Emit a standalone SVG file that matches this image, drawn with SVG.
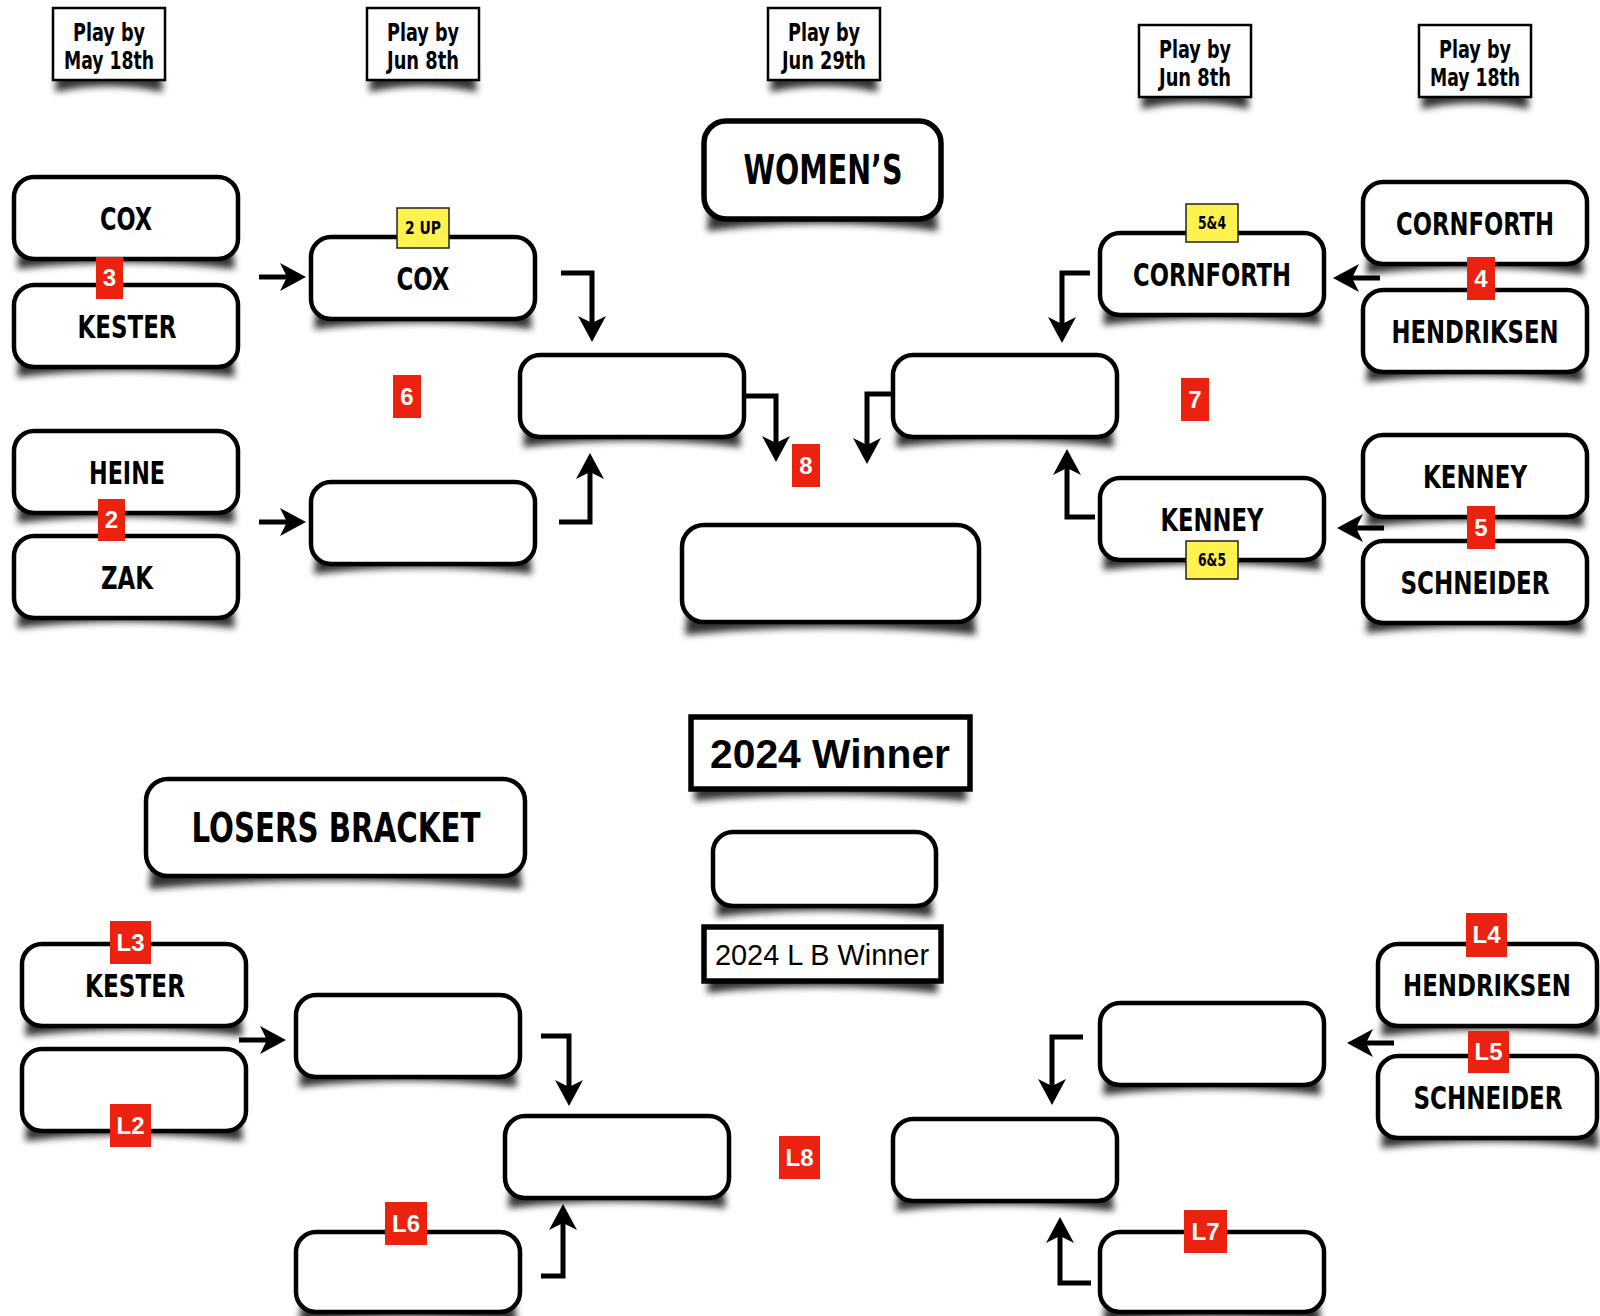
<svg xmlns="http://www.w3.org/2000/svg" xmlns:xlink="http://www.w3.org/1999/xlink" width="1600" height="1316" viewBox="0 0 1600 1316">
<style>
.bx{fill:#fff;stroke:#000;stroke-width:4.5}
.sq{fill:#fff;stroke:#000;stroke-width:2.5}
.sqb{fill:#fff;stroke:#000;stroke-width:5.5}
.shd{fill:#000;opacity:.8;filter:url(#blur)}
.nm{font-family:"Liberation Sans Narrow","DejaVu Sans Condensed","Liberation Sans",sans-serif;font-weight:bold;font-size:32px;text-anchor:middle;fill:#000}
.pb{font-family:"Liberation Sans Narrow","DejaVu Sans Condensed","Liberation Sans",sans-serif;font-weight:bold;font-size:25px;text-anchor:middle;fill:#000}
.tt{font-family:"Liberation Sans Narrow","DejaVu Sans Condensed","Liberation Sans",sans-serif;font-weight:bold;font-size:40px;text-anchor:middle;fill:#000}
.win{font-family:"Liberation Sans",Arial,sans-serif;font-weight:bold;font-size:40px;text-anchor:middle;fill:#000}
.lbw{font-family:"Liberation Sans",Arial,sans-serif;font-size:29px;text-anchor:middle;fill:#000}
.rb{fill:#EC2210}
.rt{font-family:"Liberation Sans",Arial,sans-serif;font-weight:bold;font-size:24px;text-anchor:middle;fill:#fff}
.yb{fill:#FEF24F;stroke:#222;stroke-width:1.5}
.yt{font-family:"Liberation Sans Narrow","DejaVu Sans Condensed","Liberation Sans",sans-serif;font-weight:bold;font-size:17px;text-anchor:middle;fill:#000}
.cn{fill:none;stroke:#000;stroke-width:5;marker-end:url(#ah)}
</style>
<defs>
<filter id="blur" x="-10%" y="-50%" width="120%" height="200%"><feGaussianBlur stdDeviation="3.5"/></filter>
<marker id="ah" viewBox="0 0 26 28" refX="7" refY="14" markerWidth="26" markerHeight="28" markerUnits="userSpaceOnUse" orient="auto"><path d="M0,0 L26,14 L0,28 L7,14 Z" fill="#000"/></marker>
<path id="sh" d="M6,68 H218 L221,92 Q112,79 3,92 Z"/>
<path id="shp" d="M5,60 H107 L110,84 Q56,72 2,84 Z"/>
</defs>
<rect width="1600" height="1316" fill="#fff"/>

<!-- Play by labels -->
<g id="pb1"><use href="#shp" x="53" y="8" class="shd"/><rect class="sq" x="53" y="8" width="112" height="72"/><text class="pb" x="109" y="41" textLength="72" lengthAdjust="spacingAndGlyphs">Play by</text><text class="pb" x="109" y="69" textLength="90" lengthAdjust="spacingAndGlyphs">May 18th</text></g>
<g id="pb2"><use href="#shp" x="367" y="8" class="shd"/><rect class="sq" x="367" y="8" width="112" height="72"/><text class="pb" x="423" y="41" textLength="72" lengthAdjust="spacingAndGlyphs">Play by</text><text class="pb" x="423" y="69" textLength="72" lengthAdjust="spacingAndGlyphs">Jun 8th</text></g>
<g id="pb3"><use href="#shp" x="768" y="8" class="shd"/><rect class="sq" x="768" y="8" width="112" height="72"/><text class="pb" x="824" y="41" textLength="72" lengthAdjust="spacingAndGlyphs">Play by</text><text class="pb" x="824" y="69" textLength="84" lengthAdjust="spacingAndGlyphs">Jun 29th</text></g>
<g id="pb4"><use href="#shp" x="1139" y="25" class="shd"/><rect class="sq" x="1139" y="25" width="112" height="72"/><text class="pb" x="1195" y="58" textLength="72" lengthAdjust="spacingAndGlyphs">Play by</text><text class="pb" x="1195" y="86" textLength="72" lengthAdjust="spacingAndGlyphs">Jun 8th</text></g>
<g id="pb5"><use href="#shp" x="1419" y="25" class="shd"/><rect class="sq" x="1419" y="25" width="112" height="72"/><text class="pb" x="1475" y="58" textLength="72" lengthAdjust="spacingAndGlyphs">Play by</text><text class="pb" x="1475" y="86" textLength="90" lengthAdjust="spacingAndGlyphs">May 18th</text></g>

<!-- Titles -->
<g id="womens"><path class="shd" d="M710,205 H935 L938,231 Q822,216 707,231 Z"/><rect class="bx" style="stroke-width:5.5" x="704" y="121" width="237" height="98" rx="22"/><text class="tt" x="823" y="184" textLength="159" lengthAdjust="spacingAndGlyphs">WOMEN’S</text></g>
<g id="losers-title"><path class="shd" d="M152,862 H519 L522,889 Q335,872 149,889 Z"/><rect class="bx" x="146" y="779" width="379" height="97" rx="22"/><text class="tt" x="336" y="842" textLength="289" lengthAdjust="spacingAndGlyphs">LOSERS BRACKET</text></g>
<g id="winner-title"><path class="shd" d="M697,776 H964 L967,801 Q830,788 694,801 Z"/><rect class="sqb" x="691" y="717" width="279" height="72"/><text class="win" x="830" y="768" textLength="240" lengthAdjust="spacingAndGlyphs">2024 Winner</text></g>
<g id="winner-box"><path class="shd" d="M719,892 H930 L933,917 Q824,904 716,917 Z"/><rect class="bx" x="713" y="832" width="223" height="74" rx="20"/></g>
<g id="lb-winner-title"><path class="shd" d="M710,968 H935 L938,993 Q822,980 707,993 Z"/><rect class="sqb" x="704" y="927" width="237" height="54"/><text class="lbw" x="822" y="965" textLength="214" lengthAdjust="spacingAndGlyphs">2024 L B Winner</text></g>

<!-- Women's bracket nodes -->
<g id="w-r1-cox"><use href="#sh" x="14" y="177" class="shd"/><rect class="bx" x="14" y="177" width="224" height="82" rx="20"/><text class="nm" x="126" y="230" textLength="52" lengthAdjust="spacingAndGlyphs">COX</text></g>
<g id="w-r1-kester"><use href="#sh" x="14" y="285" class="shd"/><rect class="bx" x="14" y="285" width="224" height="82" rx="20"/><text class="nm" x="127" y="338" textLength="99" lengthAdjust="spacingAndGlyphs">KESTER</text></g>
<g id="w-r1-heine"><use href="#sh" x="14" y="431" class="shd"/><rect class="bx" x="14" y="431" width="224" height="82" rx="20"/><text class="nm" x="127" y="484" textLength="76" lengthAdjust="spacingAndGlyphs">HEINE</text></g>
<g id="w-r1-zak"><use href="#sh" x="14" y="536" class="shd"/><rect class="bx" x="14" y="536" width="224" height="82" rx="20"/><text class="nm" x="127" y="589" textLength="52" lengthAdjust="spacingAndGlyphs">ZAK</text></g>
<g id="w-r2-cox"><use href="#sh" x="311" y="237" class="shd"/><rect class="bx" x="311" y="237" width="224" height="82" rx="20"/><text class="nm" x="423" y="290" textLength="53" lengthAdjust="spacingAndGlyphs">COX</text></g>
<g id="w-r2-bottom"><use href="#sh" x="311" y="482" class="shd"/><rect class="bx" x="311" y="482" width="224" height="82" rx="20"/></g>
<g id="w-r3-left"><use href="#sh" x="520" y="355" class="shd"/><rect class="bx" x="520" y="355" width="224" height="82" rx="20"/></g>
<g id="w-final"><path class="shd" d="M688,607 H973 L976,635 Q830,620 685,635 Z"/><rect class="bx" x="682" y="525" width="297" height="97" rx="22"/></g>
<g id="w-r3-right"><use href="#sh" x="893" y="355" class="shd"/><rect class="bx" x="893" y="355" width="224" height="82" rx="20"/></g>
<g id="w-r2-cornforth"><use href="#sh" x="1100" y="233" class="shd"/><rect class="bx" x="1100" y="233" width="224" height="82" rx="20"/><text class="nm" x="1212" y="286" textLength="158" lengthAdjust="spacingAndGlyphs">CORNFORTH</text></g>
<g id="w-r2-kenney"><use href="#sh" x="1100" y="478" class="shd"/><rect class="bx" x="1100" y="478" width="224" height="82" rx="20"/><text class="nm" x="1212" y="531" textLength="103" lengthAdjust="spacingAndGlyphs">KENNEY</text></g>
<g id="w-r1-cornforth"><use href="#sh" x="1363" y="182" class="shd"/><rect class="bx" x="1363" y="182" width="224" height="82" rx="20"/><text class="nm" x="1475" y="235" textLength="158" lengthAdjust="spacingAndGlyphs">CORNFORTH</text></g>
<g id="w-r1-hendriksen"><use href="#sh" x="1363" y="290" class="shd"/><rect class="bx" x="1363" y="290" width="224" height="82" rx="20"/><text class="nm" x="1475" y="343" textLength="167" lengthAdjust="spacingAndGlyphs">HENDRIKSEN</text></g>
<g id="w-r1-kenney"><use href="#sh" x="1363" y="435" class="shd"/><rect class="bx" x="1363" y="435" width="224" height="82" rx="20"/><text class="nm" x="1475" y="488" textLength="104" lengthAdjust="spacingAndGlyphs">KENNEY</text></g>
<g id="w-r1-schneider"><use href="#sh" x="1363" y="541" class="shd"/><rect class="bx" x="1363" y="541" width="224" height="82" rx="20"/><text class="nm" x="1475" y="594" textLength="149" lengthAdjust="spacingAndGlyphs">SCHNEIDER</text></g>

<!-- Losers bracket nodes -->
<g id="l-r1-kester"><use href="#sh" x="22" y="944" class="shd"/><rect class="bx" x="22" y="944" width="224" height="82" rx="20"/><text class="nm" x="135" y="997" textLength="100" lengthAdjust="spacingAndGlyphs">KESTER</text></g>
<g id="l-r1-l2"><use href="#sh" x="22" y="1049" class="shd"/><rect class="bx" x="22" y="1049" width="224" height="82" rx="20"/></g>
<g id="l-r2-left"><use href="#sh" x="296" y="995" class="shd"/><rect class="bx" x="296" y="995" width="224" height="82" rx="20"/></g>
<g id="l-r2-l6"><use href="#sh" x="296" y="1232" class="shd"/><rect class="bx" x="296" y="1232" width="224" height="80" rx="20"/></g>
<g id="l-r3-left"><use href="#sh" x="505" y="1116" class="shd"/><rect class="bx" x="505" y="1116" width="224" height="82" rx="20"/></g>
<g id="l-r3-right"><use href="#sh" x="893" y="1119" class="shd"/><rect class="bx" x="893" y="1119" width="224" height="82" rx="20"/></g>
<g id="l-r2-right"><use href="#sh" x="1100" y="1003" class="shd"/><rect class="bx" x="1100" y="1003" width="224" height="82" rx="20"/></g>
<g id="l-r2-l7"><use href="#sh" x="1100" y="1232" class="shd"/><rect class="bx" x="1100" y="1232" width="224" height="80" rx="20"/></g>
<g id="l-r1-hendriksen"><use href="#sh" x="1378" y="944" class="shd"/><rect class="bx" x="1378" y="944" width="219" height="82" rx="20"/><text class="nm" style="font-size:30px" x="1487" y="996" textLength="168" lengthAdjust="spacingAndGlyphs">HENDRIKSEN</text></g>
<g id="l-r1-schneider"><use href="#sh" x="1378" y="1056" class="shd"/><rect class="bx" x="1378" y="1056" width="219" height="82" rx="20"/><text class="nm" x="1488" y="1109" textLength="149" lengthAdjust="spacingAndGlyphs">SCHNEIDER</text></g>

<!-- Connectors -->
<g id="connectors">
<path class="cn" d="M259,277 H287"/>
<path class="cn" d="M259,522 H287"/>
<path class="cn" d="M561,273 H592 V323"/>
<path class="cn" d="M559,522 H590 V472"/>
<path class="cn" d="M744,396 H776 V443"/>
<path class="cn" d="M895,394 H867 V445"/>
<path class="cn" d="M1090,273 H1062 V324"/>
<path class="cn" d="M1095,517 H1067 V468"/>
<path class="cn" d="M1380,278 H1352"/>
<path class="cn" d="M1384,528 H1356"/>
<path class="cn" d="M239,1040 H267"/>
<path class="cn" d="M541,1036 H569 V1087"/>
<path class="cn" d="M541,1276 H563 V1223"/>
<path class="cn" d="M1083,1037 H1052 V1086"/>
<path class="cn" d="M1091,1283 H1060 V1236"/>
<path class="cn" d="M1394,1043 H1366"/>
</g>

<!-- Result badges -->
<g id="res-2up"><rect class="yb" x="397" y="208" width="52" height="40"/><text class="yt" x="423" y="234" textLength="36" lengthAdjust="spacingAndGlyphs">2 UP</text></g>
<g id="res-5n4"><rect class="yb" x="1186" y="204" width="52" height="38"/><text class="yt" x="1212" y="229" textLength="28" lengthAdjust="spacingAndGlyphs">5&amp;4</text></g>
<g id="res-6n5"><rect class="yb" x="1186" y="541" width="52" height="38"/><text class="yt" x="1212" y="566" textLength="28" lengthAdjust="spacingAndGlyphs">6&amp;5</text></g>

<!-- Match number badges -->
<g id="m3"><rect class="rb" x="96" y="257" width="27" height="42"/><text class="rt" x="109.5" y="286">3</text></g>
<g id="m2"><rect class="rb" x="98" y="499" width="27" height="42"/><text class="rt" x="111.5" y="528">2</text></g>
<g id="m6"><rect class="rb" x="393" y="375" width="28" height="43"/><text class="rt" x="407" y="405">6</text></g>
<g id="m8"><rect class="rb" x="792" y="444" width="28" height="43"/><text class="rt" x="806" y="474">8</text></g>
<g id="m7"><rect class="rb" x="1181" y="378" width="28" height="43"/><text class="rt" x="1195" y="408">7</text></g>
<g id="m4"><rect class="rb" x="1467" y="257" width="28" height="43"/><text class="rt" x="1481" y="287">4</text></g>
<g id="m5"><rect class="rb" x="1467" y="506" width="28" height="43"/><text class="rt" x="1481" y="536">5</text></g>
<g id="mL3"><rect class="rb" x="110" y="921" width="41" height="43"/><text class="rt" x="130.5" y="951">L3</text></g>
<g id="mL2"><rect class="rb" x="110" y="1104" width="41" height="43"/><text class="rt" x="130.5" y="1134">L2</text></g>
<g id="mL6"><rect class="rb" x="385" y="1202" width="42" height="43"/><text class="rt" x="406" y="1232">L6</text></g>
<g id="mL8"><rect class="rb" x="779" y="1136" width="41" height="43"/><text class="rt" x="799.5" y="1166">L8</text></g>
<g id="mL4"><rect class="rb" x="1466" y="913" width="41" height="44"/><text class="rt" x="1486.5" y="943">L4</text></g>
<g id="mL5"><rect class="rb" x="1468" y="1031" width="41" height="42"/><text class="rt" x="1488.5" y="1060">L5</text></g>
<g id="mL7"><rect class="rb" x="1184" y="1210" width="43" height="43"/><text class="rt" x="1205.5" y="1240">L7</text></g>
</svg>
